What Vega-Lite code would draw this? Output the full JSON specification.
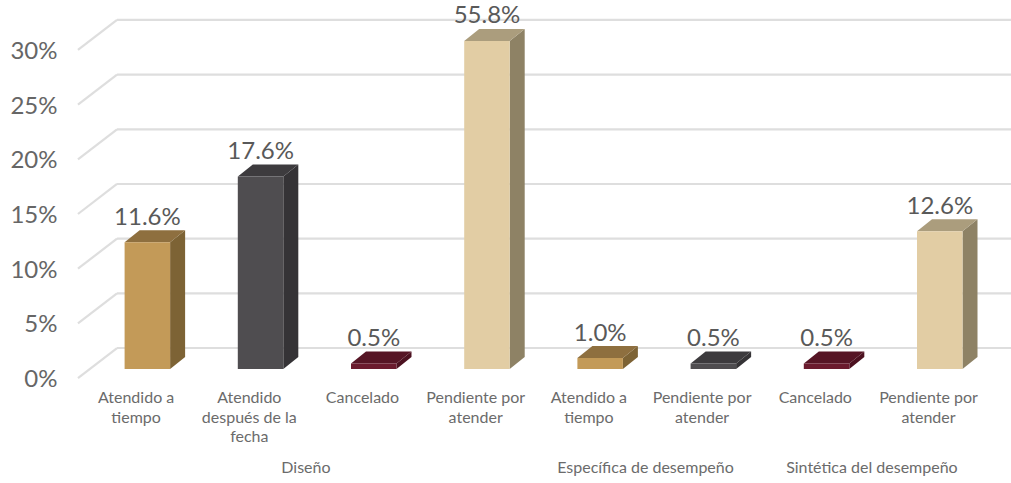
{
"$schema":"https://vega.github.io/schema/vega-lite/v6.json",
"width":931,"height":483,
"autosize":{"type":"none"},
"padding":{"left":80,"top":0,"right":0,"bottom":0},
"background":"white",
"config":{"view":{"stroke":null},"font":"Lato"},
"datasets":{
"filas":[
{"grupo":"Diseño","estado":"Atendido a\ntiempo","valor":0.116},
{"grupo":"Diseño","estado":"Atendido\ndespués de la\nfecha","valor":0.176},
{"grupo":"Diseño","estado":"Cancelado","valor":0.005},
{"grupo":"Diseño","estado":"Pendiente por\natender","valor":0.558},
{"grupo":"Específica de desempeño","estado":"Atendido a\ntiempo","valor":0.010},
{"grupo":"Específica de desempeño","estado":"Pendiente por\natender","valor":0.005},
{"grupo":"Sintética del desempeño","estado":"Cancelado","valor":0.005},
{"grupo":"Sintética del desempeño","estado":"Pendiente por\natender","valor":0.126}
],
"rejilla":[{"g":0},{"g":0.05},{"g":0.1},{"g":0.15},{"g":0.2},{"g":0.25},{"g":0.3}]
},
"data":{"name":"filas"},
"transform":[
{"window":[{"op":"row_number","as":"n"}]},
{"calculate":"datum.n-1+0.394","as":"izq"},
{"calculate":"datum.n-1+0.796","as":"der"},
{"calculate":"datum.n-0.5","as":"centro"},
{"calculate":"datum.n-1+0.6","as":"xtexto"},
{"calculate":"min(datum.valor,0.3)+0.00823","as":"tope"},
{"calculate":"0.00823","as":"base"}
],
"resolve":{"scale":{"fill":"independent"}},
"layer":[
{"data":{"name":"rejilla"},
 "transform":[{"calculate":"-0.018","as":"x0"},{"calculate":"0.327","as":"x1"},{"calculate":"datum.g+0.02744","as":"atras"}],
 "mark":{"type":"rule","color":"#DEDEDE","strokeWidth":2.2},
 "encoding":{
  "x":{"field":"x0","type":"quantitative","scale":{"domain":[0,8.2244],"nice":false,"zero":false},"axis":null},
  "x2":{"field":"x1"},
  "y":{"field":"g","type":"quantitative","scale":{"domain":[-0.0960,0.3457],"nice":false,"zero":false},
   "axis":{"values":[0,0.05,0.1,0.15,0.2,0.25,0.3],"format":"0%","title":null,"domain":false,"ticks":false,"grid":false,"labelFontSize":24,"labelColor":"#666666","labelFont":"Lato","labelPadding":23,"labelOffset":1.5}},
  "y2":{"field":"atras"}
 }},
{"data":{"name":"rejilla"},
 "transform":[{"calculate":"0.327","as":"x1"},{"calculate":"8.2244","as":"x2"},{"calculate":"datum.g+0.02744","as":"atras"}],
 "mark":{"type":"rule","color":"#DEDEDE","strokeWidth":2.2},
 "encoding":{
  "x":{"field":"x1","type":"quantitative","scale":{"domain":[0,8.2244],"nice":false,"zero":false},"axis":null},
  "x2":{"field":"x2"},
  "y":{"field":"atras","type":"quantitative","scale":{"domain":[-0.0960,0.3457],"nice":false,"zero":false}}
 }},
{"transform":[{"calculate":"[0,1]","as":"d"},{"flatten":["d"]},
  {"calculate":"datum.der+datum.d*0.1325","as":"sx"},
  {"calculate":"datum.tope+datum.d*0.01098","as":"sy"},
  {"calculate":"datum.base+datum.d*0.01098","as":"sy2"}],
 "mark":{"type":"area","orient":"vertical"},
 "encoding":{
  "x":{"field":"sx","type":"quantitative","scale":{"domain":[0,8.2244],"nice":false,"zero":false},"axis":null},
  "y":{"field":"sy","type":"quantitative","scale":{"domain":[-0.0960,0.3457],"nice":false,"zero":false}},
  "y2":{"field":"sy2"},
  "fill":{"field":"n","type":"nominal","legend":null,"scale":{"domain":[1,2,3,4,5,6,7,8],"range":["#7D6335","#353336","#4C1120","#8E8265","#7D6335","#353336","#4C1120","#8E8265"]}}
 }},
{"transform":[{"calculate":"[0,1]","as":"d"},{"flatten":["d"]},
  {"calculate":"datum.izq+datum.d*0.1325","as":"tx"},
  {"calculate":"datum.der+datum.d*0.1325","as":"tx2"},
  {"calculate":"datum.tope+datum.d*0.01098","as":"ty"}],
 "mark":{"type":"area","orient":"horizontal"},
 "encoding":{
  "y":{"field":"ty","type":"quantitative","scale":{"domain":[-0.0960,0.3457],"nice":false,"zero":false}},
  "x":{"field":"tx","type":"quantitative","scale":{"domain":[0,8.2244],"nice":false,"zero":false},"axis":null},
  "x2":{"field":"tx2"},
  "fill":{"field":"n","type":"nominal","legend":null,"scale":{"domain":[1,2,3,4,5,6,7,8],"range":["#8E6F3F","#3D3B3E","#561525","#AB9D7D","#8E6F3F","#3D3B3E","#561525","#AB9D7D"]}}
 }},
{"mark":{"type":"rect"},
 "encoding":{
  "x":{"field":"izq","type":"quantitative","scale":{"domain":[0,8.2244],"nice":false,"zero":false},"axis":null},
  "x2":{"field":"der"},
  "y":{"field":"tope","type":"quantitative","scale":{"domain":[-0.0960,0.3457],"nice":false,"zero":false}},
  "y2":{"field":"base"},
  "fill":{"field":"n","type":"nominal","legend":null,"scale":{"domain":[1,2,3,4,5,6,7,8],"range":["#C39A58","#4F4D50","#6B1B2E","#E2CDA4","#C39A58","#4F4D50","#6B1B2E","#E2CDA4"]}}
 }},
{"mark":{"type":"text","font":"Lato","fontSize":24,"color":"#595959","baseline":"middle","align":"center","dy":-24.5,"dx":-0.5},
 "encoding":{
  "x":{"field":"xtexto","type":"quantitative","scale":{"domain":[0,8.2244],"nice":false,"zero":false},"axis":null},
  "y":{"field":"tope","type":"quantitative","scale":{"domain":[-0.0960,0.3457],"nice":false,"zero":false}},
  "text":{"field":"valor","type":"quantitative","format":".1%"}
 }},
{"mark":{"type":"text","font":"Lato","fontSize":16,"color":"#6B6B6B","baseline":"top","align":"center","lineBreak":"\n","lineHeight":19.5,"dx":-0.5},
 "encoding":{
  "x":{"field":"centro","type":"quantitative","scale":{"domain":[0,8.2244],"nice":false,"zero":false},"axis":null},
  "y":{"datum":-0.0113,"type":"quantitative","scale":{"domain":[-0.0960,0.3457],"nice":false,"zero":false}},
  "text":{"field":"estado","type":"nominal"}
 }},
{"transform":[{"aggregate":[{"op":"mean","field":"centro","as":"medio"}],"groupby":["grupo"]}],
 "mark":{"type":"text","font":"Lato","fontSize":16,"color":"#6B6B6B","baseline":"middle","align":"center","dx":-0.5},
 "encoding":{
  "x":{"field":"medio","type":"quantitative","scale":{"domain":[0,8.2244],"nice":false,"zero":false},"axis":null},
  "y":{"datum":-0.0823,"type":"quantitative","scale":{"domain":[-0.0960,0.3457],"nice":false,"zero":false}},
  "text":{"field":"grupo","type":"nominal"}
 }}
]
}
